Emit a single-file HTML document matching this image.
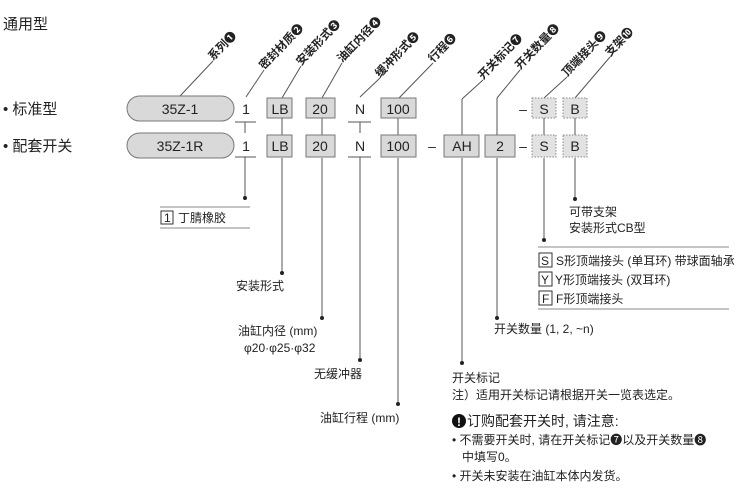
<!DOCTYPE html>
<html><head><meta charset="utf-8">
<style>
html,body{margin:0;padding:0;background:#fff;width:750px;height:501px;overflow:hidden}
svg{display:block}
text{font-family:"Liberation Sans","Noto Sans CJK SC",sans-serif;fill:#222}
</style></head><body>
<svg width="750" height="501" viewBox="0 0 750 501" xmlns="http://www.w3.org/2000/svg">
<g stroke="#555" stroke-width="1" fill="none">
<line x1="180" y1="96" x2="213" y2="61"/>
<line x1="246" y1="97" x2="264" y2="70"/>
<line x1="282" y1="98" x2="301" y2="66"/>
<line x1="322" y1="98" x2="342" y2="63"/>
<line x1="360" y1="97" x2="380" y2="78"/>
<line x1="399" y1="98" x2="433" y2="63"/>
<line x1="462" y1="99" x2="483" y2="80"/>
<line x1="497" y1="98" x2="520" y2="70"/>
<line x1="544" y1="98" x2="567" y2="77"/>
<line x1="575" y1="98" x2="610" y2="57"/>
<line x1="235" y1="122" x2="256" y2="122"/>
<line x1="235" y1="157" x2="256" y2="157"/>
<line x1="348" y1="122" x2="371" y2="122"/>
<line x1="348" y1="157" x2="371" y2="157"/>
<line x1="245" y1="122" x2="245" y2="133"/>
<line x1="245" y1="157" x2="245" y2="198"/>
<line x1="282" y1="118" x2="282" y2="135"/>
<line x1="282" y1="158" x2="282" y2="273"/>
<line x1="322" y1="118" x2="322" y2="135"/>
<line x1="322" y1="158" x2="322" y2="318"/>
<line x1="360" y1="122" x2="360" y2="133"/>
<line x1="360" y1="157" x2="360" y2="360"/>
<line x1="398" y1="118" x2="398" y2="135"/>
<line x1="398" y1="158" x2="398" y2="404"/>
<line x1="462" y1="99" x2="462" y2="135"/>
<line x1="462" y1="158" x2="462" y2="363"/>
<line x1="497" y1="98" x2="497" y2="135"/>
<line x1="497" y1="158" x2="497" y2="318"/>
<line x1="544" y1="118" x2="544" y2="135"/>
<line x1="544" y1="158" x2="544" y2="240"/>
<line x1="575" y1="118" x2="575" y2="135"/>
<line x1="575" y1="158" x2="575" y2="199"/>
<line x1="160" y1="207" x2="250" y2="207" stroke="#888"/>
<line x1="160" y1="228" x2="250" y2="228" stroke="#888"/>
<line x1="538" y1="247" x2="729" y2="247" stroke="#888"/>
<line x1="538" y1="309" x2="729" y2="309" stroke="#888"/>
</g>
<g fill="#222">
<circle cx="245" cy="198" r="2"/><circle cx="282" cy="273" r="2"/><circle cx="322" cy="318" r="2"/>
<circle cx="360" cy="360" r="2"/><circle cx="398" cy="404" r="2"/><circle cx="462" cy="363" r="2"/>
<circle cx="497" cy="318" r="2"/><circle cx="544" cy="240" r="2"/><circle cx="575" cy="199" r="2"/>
</g>
<rect x="127" y="96" width="107" height="25" rx="12.5" fill="#d9d9d9" stroke="#777"/>
<rect x="127" y="133" width="107" height="25" rx="12.5" fill="#d9d9d9" stroke="#777"/>
<g fill="#d9d9d9" stroke="#777">
<rect x="267" y="98" width="25" height="20"/><rect x="267" y="135" width="25" height="22"/>
<rect x="306" y="98" width="29" height="20"/><rect x="306" y="135" width="29" height="22"/>
<rect x="381" y="98" width="35" height="20"/><rect x="381" y="135" width="35" height="22"/>
<rect x="444" y="135" width="35" height="22"/>
<rect x="485" y="135" width="30" height="22"/>
</g>
<g fill="#e2e2e2" stroke="#888" stroke-dasharray="1.5,1.5">
<rect x="532" y="98" width="24" height="20"/><rect x="532" y="135" width="24" height="22"/>
<rect x="563" y="98" width="24" height="20"/><rect x="563" y="135" width="24" height="22"/>
</g>
<g font-size="14" text-anchor="middle">
<text x="180" y="114">35Z-1</text><text x="180" y="151">35Z-1R</text>
<text x="246" y="114">1</text><text x="246" y="151">1</text>
<text x="280" y="114">LB</text><text x="280" y="151">LB</text>
<text x="320" y="114">20</text><text x="320" y="151">20</text>
<text x="360" y="114">N</text><text x="360" y="151">N</text>
<text x="398" y="114">100</text><text x="398" y="151">100</text>
<text x="432" y="151">–</text>
<text x="462" y="151">AH</text><text x="500" y="151">2</text>
<text x="523" y="114">–</text><text x="523" y="151">–</text>
<text x="544" y="114">S</text><text x="544" y="151">S</text>
<text x="575" y="114">B</text><text x="575" y="151">B</text>
</g>
<g font-size="11.5" font-weight="bold">
<text transform="translate(213,61) rotate(-46)">系列❶</text>
<text transform="translate(264,70) rotate(-46)">密封材质❷</text>
<text transform="translate(301,66) rotate(-46)">安装形式❸</text>
<text transform="translate(342,63) rotate(-46)">油缸内径❹</text>
<text transform="translate(380,78) rotate(-46)">缓冲形式❺</text>
<text transform="translate(433,63) rotate(-46)">行程❻</text>
<text transform="translate(483,80) rotate(-46)">开关标记❼</text>
<text transform="translate(520,70) rotate(-46)">开关数量❽</text>
<text transform="translate(567,77) rotate(-46)">顶端接头❾</text>
<text transform="translate(610,57) rotate(-46)">支架❿</text>
</g>
<g font-size="15">
<text x="3" y="29">通用型</text>
<text x="3" y="114">• 标准型</text>
<text x="3" y="151">• 配套开关</text>
</g>
<g font-size="12">
<rect x="161" y="211" width="12" height="13" fill="none" stroke="#333"/>
<text x="164" y="222">1</text><text x="178" y="222">丁腈橡胶</text>
<text x="236" y="290">安装形式</text>
<text x="238" y="335">油缸内径 (mm)</text>
<text x="244" y="352">φ20·φ25·φ32</text>
<text x="314" y="378">无缓冲器</text>
<text x="320" y="422">油缸行程 (mm)</text>
<text x="452" y="382">开关标记</text>
<text x="452" y="399">注）适用开关标记请根据开关一览表选定。</text>
<text x="494" y="333">开关数量 (1, 2, ~n)</text>
<text x="569" y="216">可带支架</text>
<text x="569" y="232">安装形式CB型</text>
<rect x="539" y="253" width="13" height="14" fill="none" stroke="#333"/><text x="541" y="265">S</text>
<text x="556" y="265">S形顶端接头 (单耳环) 带球面轴承</text>
<rect x="539" y="272" width="13" height="14" fill="none" stroke="#333"/><text x="541" y="284">Y</text>
<text x="555" y="284">Y形顶端接头 (双耳环)</text>
<rect x="539" y="291" width="13" height="14" fill="none" stroke="#333"/><text x="542" y="303">F</text>
<text x="556" y="303">F形顶端接头</text>
<text x="452" y="444">• 不需要开关时, 请在开关标记❼以及开关数量❽</text>
<text x="462" y="461">中填写0。</text>
<text x="452" y="480">• 开关未安装在油缸本体内发货。</text>
</g>
<circle cx="459" cy="421" r="7" fill="#111"/>
<text x="459" y="426" font-size="12" font-weight="bold" text-anchor="middle" style="fill:#fff">!</text>
<text x="467" y="426" font-size="14">订购配套开关时, 请注意:</text>
</svg>
</body></html>
